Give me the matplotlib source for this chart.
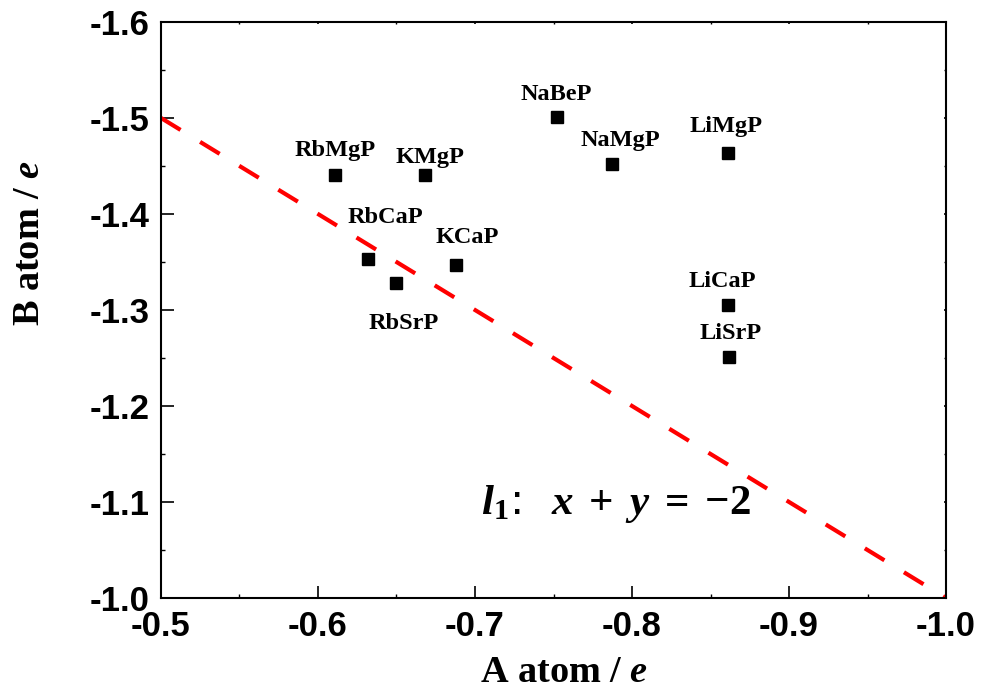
import numpy as np
import matplotlib.pyplot as plt
from matplotlib.ticker import MultipleLocator

# Bader charges of the A and B atoms in each ABP compound
compounds = ['RbMgP', 'KMgP', 'RbCaP', 'RbSrP', 'KCaP',
             'NaBeP', 'NaMgP', 'LiMgP', 'LiCaP', 'LiSrP']
a_charge = [-0.611, -0.668, -0.632, -0.650, -0.688,
            -0.752, -0.787, -0.861, -0.861, -0.862]
b_charge = [-1.441, -1.441, -1.353, -1.328, -1.347,
            -1.501, -1.452, -1.464, -1.305, -1.251]
# label offsets in points (dx, dy)
label_off = [(0, 17), (4, 12), (12, 30), (5, -29), (8, 20),
             (0, 16), (6, 17), (-1, 19), (-4, 17), (1, 17)]

# reference line l1: x + y = -2
line_x = np.array([-0.5, -1.0])
line_y = -2 - line_x

plt.rcParams['mathtext.fontset'] = 'custom'
plt.rcParams['mathtext.rm'] = 'Liberation Serif:bold'
plt.rcParams['mathtext.bf'] = 'Liberation Serif:bold'
plt.rcParams['mathtext.it'] = 'Liberation Serif:italic:bold'
plt.rcParams['mathtext.bfit'] = 'Liberation Serif:italic:bold'

fig = plt.figure(figsize=(9.84, 6.95), dpi=100)
ax = fig.add_axes([0.1636, 0.1396, 0.7978, 0.8288])

ax.plot(line_x, line_y, color='#ff0000', lw=3, ls=(0, (5.5, 5.5)), zorder=2)
ax.plot(a_charge, b_charge, 's', color='black', ms=9, zorder=3)

for name, x, y, off in zip(compounds, a_charge, b_charge, label_off):
    ax.annotate(name, (x, y), xytext=off, textcoords='offset points',
                ha='center', va='center', fontsize=17.5, fontweight='bold',
                family='Liberation Serif')

ax.text(-0.790, -1.098,
        r'$\mathbfit{l}_{\mathbf{1}}$:  $\mathbfit{x}\;+\;\mathbfit{y}\;=\;\mathbf{-2}$',
        fontsize=31, ha='center', va='center')

ax.set_xlim(-0.5, -1.0)
ax.set_ylim(-1.0, -1.6)
ax.xaxis.set_major_locator(MultipleLocator(0.1))
ax.xaxis.set_minor_locator(MultipleLocator(0.05))
ax.yaxis.set_major_locator(MultipleLocator(0.1))
ax.yaxis.set_minor_locator(MultipleLocator(0.05))
ax.xaxis.set_major_formatter(plt.FuncFormatter(lambda v, p: f'{v:.1f}'))
ax.yaxis.set_major_formatter(plt.FuncFormatter(lambda v, p: f'{v:.1f}'))

ax.tick_params(which='major', direction='in', length=9, width=1.2, labelsize=25)
ax.tick_params(axis='x', which='major', pad=9)
ax.tick_params(axis='y', which='major', pad=8)
ax.tick_params(which='minor', direction='in', length=3, width=1.0)
ax.tick_params(which='both', top=True, right=True)
# ticks on the top and right spines are barely visible stubs
for t in ax.xaxis.get_major_ticks() + ax.xaxis.get_minor_ticks():
    t.tick2line.set_markersize(1.5)
for t in ax.yaxis.get_major_ticks() + ax.yaxis.get_minor_ticks():
    t.tick2line.set_markersize(1.5)
for lbl in ax.get_xticklabels() + ax.get_yticklabels():
    lbl.set_family('Liberation Sans')
    lbl.set_fontweight('bold')
for sp in ax.spines.values():
    sp.set_linewidth(1.5)

ax.set_xlabel(r'A atom / $\mathit{e}$', fontsize=27.5, fontweight='bold',
              family='Liberation Serif')
ax.set_ylabel(r'B atom / $\mathit{e}$', fontsize=27.5, fontweight='bold',
              family='Liberation Serif')
ax.xaxis.set_label_coords(0.513, -0.13)
ax.yaxis.set_label_coords(-0.167, 0.616)
ax.xaxis.label.set_va('center')
ax.yaxis.label.set_va('center')

fig.savefig('out.png', dpi=100)
